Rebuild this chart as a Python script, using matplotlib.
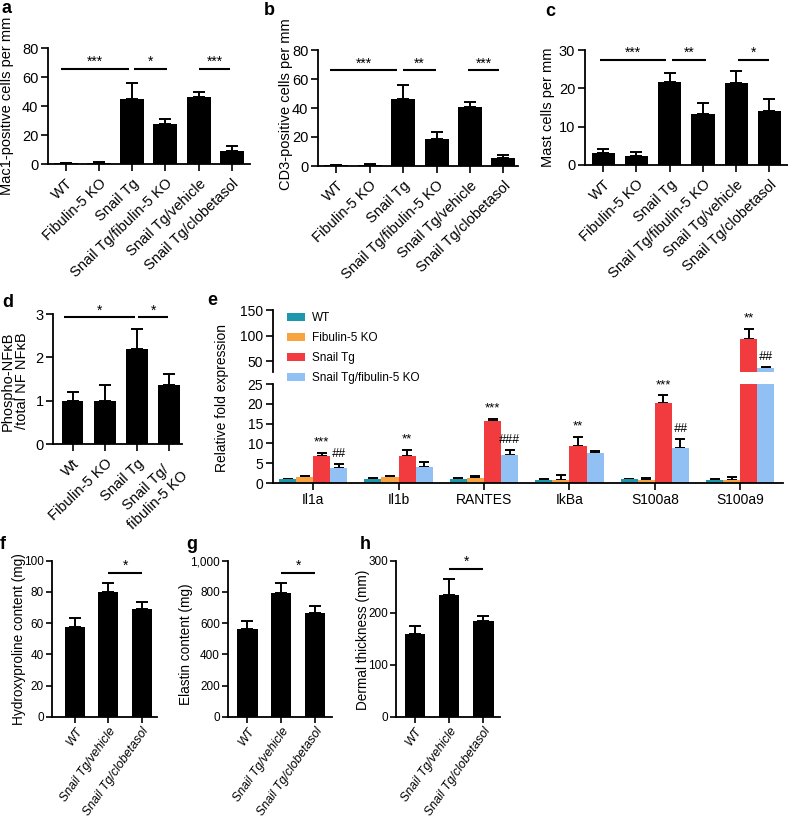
import matplotlib
matplotlib.use("Agg")
import matplotlib.pyplot as plt
from matplotlib.patches import Patch
import numpy as np

plt.rcParams['font.family'] = ['Liberation Sans', 'DejaVu Sans']
plt.rcParams['axes.linewidth'] = 1.0

# ---------------- data ----------------
groups6 = ['WT', 'Fibulin-5 KO', 'Snail Tg', 'Snail Tg/fibulin-5 KO',
           'Snail Tg/vehicle', 'Snail Tg/clobetasol']
mac1_mean = [0.5, 0.6, 44.7, 27.7, 46.5, 9.0]
mac1_err = [0.5, 0.6, 11.5, 3.4, 3.5, 3.4]
cd3_mean = [0.4, 1.0, 46.0, 18.4, 40.5, 5.5]
cd3_err = [0.4, 0.6, 9.9, 5.3, 3.4, 1.9]
mast_mean = [3.2, 2.4, 21.6, 13.3, 21.3, 14.2]
mast_err = [1.0, 1.0, 2.3, 2.8, 3.1, 3.0]

nfkb_labels = ['Wt', 'Fibulin-5 KO', 'Snail Tg', 'Snail Tg/\nfibulin-5 KO']
nfkb_mean = [1.0, 1.0, 2.2, 1.35]
nfkb_err = [0.2, 0.37, 0.45, 0.27]

genes = ['Il1a', 'Il1b', 'RANTES', 'IkBa', 'S100a8', 'S100a9']
series_names = ['WT', 'Fibulin-5 KO', 'Snail Tg', 'Snail Tg/fibulin-5 KO']
series_colors = ['#1c97ab', '#f7a440', '#f23b3f', '#90c0f4']
wt_mean = [0.9, 0.9, 0.9, 0.8, 0.9, 0.8]
wt_err = [0.15, 0.4, 0.3, 0.2, 0.15, 0.2]
fib_mean = [1.6, 1.5, 1.3, 0.8, 0.8, 0.8]
fib_err = [0.1, 0.15, 0.4, 1.2, 0.5, 0.7]
snail_mean = [6.8, 6.7, 15.7, 9.3, 20.3, 93.0]
snail_err = [0.8, 1.7, 0.5, 2.3, 1.8, 20.0]
ko_mean = [3.9, 4.0, 7.0, 7.5, 8.8, 38.0]
ko_err = [0.9, 1.2, 1.4, 0.5, 2.2, 1.2]
snail_sig = ['***', '**', '***', '**', '***', '**']
ko_sig = ['##', '', '###', '', '##', '##']

groups3 = ['WT', 'Snail Tg/vehicle', 'Snail Tg/clobetasol']
hyp_mean = [57.3, 79.7, 69.0]
hyp_err = [5.7, 5.8, 4.3]
ela_mean = [560, 795, 667]
ela_err = [53, 64, 42]
derm_mean = [160, 235, 184]
derm_err = [14, 29, 10]

# significance bars: (start, end, height, label)
sig_a = [(-0.15, 1.9, 65.7, '***'), (2.05, 3.05, 65.7, '*'), (4.0, 4.95, 65.7, '***')]
sig_b = [(-0.2, 1.82, 66, '***'), (2.0, 2.98, 66, '**'), (3.95, 4.88, 66, '***')]
sig_c = [(-0.1, 1.9, 27.4, '***'), (2.08, 3.08, 27.4, '**'), (4.06, 5.0, 27.4, '*')]
sig_d = [(-0.27, 1.94, 2.92, '*'), (2.04, 2.97, 2.92, '*')]
sig_f = [(1.0, 2.0, 92, '*')]
sig_g = [(1.0, 2.0, 923, '*')]
sig_h = [(1.0, 2.0, 284, '*')]

# ---------------- figure ----------------
W, H = 788, 821
fig = plt.figure(figsize=(W / 100, H / 100), dpi=100)


def px_axes(l, t, r, b):
    return fig.add_axes([l / W, 1 - b / H, (r - l) / W, (b - t) / H])


def ftext(x, y, s, **kw):
    fig.text(x / W, 1 - y / H, s, **kw)


def style(ax, fs=10.5, length=5, pad=2):
    for sp in ['top', 'right']:
        ax.spines[sp].set_visible(False)
    ax.spines['left'].set_linewidth(1.3)
    ax.spines['bottom'].set_linewidth(1.3)
    ax.tick_params(direction='out', length=length, width=1.2, labelsize=fs, pad=pad)


def sig(ax, items, fs=10):
    for x0, x1, y, lab in items:
        ax.plot([x0, x1], [y, y], color='k', lw=1.5, clip_on=False, solid_capstyle='butt')
        ax.text((x0 + x1) / 2, y, lab, ha='center', va='bottom', fontsize=fs)


def black_bars(ax, means, errs, width):
    x = np.arange(len(means))
    ax.bar(x, means, width=width, color='black', zorder=2)
    ax.errorbar(x, means, yerr=[np.zeros(len(errs)), errs], fmt='none',
                ecolor='black', elinewidth=1.4, capsize=4, capthick=1.4, zorder=1)
    ax.set_xticks(x)


def top_panel(box, means, errs, width, ylim, yticks, xlim, labels, sigs, ylabel, lab_xy):
    ax = px_axes(*box)
    black_bars(ax, means, errs, width)
    style(ax)
    ax.tick_params(axis='x', pad=4)
    ax.set_ylim(*ylim)
    ax.set_yticks(yticks)
    ax.set_xlim(*xlim)
    ax.set_xticklabels(labels, rotation=44, ha='right', rotation_mode='anchor',
                       multialignment='center', fontsize=10.5)
    sig(ax, sigs)
    ftext(lab_xy[0], lab_xy[1], ylabel, rotation=90, ha='center', va='center',
          fontsize=10.5, multialignment='center', linespacing=1.0)
    return ax


top_panel((48, 48.3, 250, 164), mac1_mean, mac1_err, 0.72, (0, 80), [0, 20, 40, 60, 80],
          (-0.53, 5.54), groups6, sig_a, 'Mac1-positive cells per mm', (7, 106))
top_panel((318, 50, 518, 166), cd3_mean, cd3_err, 0.72, (0, 80), [0, 20, 40, 60, 80],
          (-0.55, 5.44), groups6, sig_b, 'CD3-positive cells per mm', (286, 104))
top_panel((585, 50, 788, 165), mast_mean, mast_err, 0.7, (0, 30), [0, 10, 20, 30],
          (-0.55, 5.56), groups6, sig_c, 'Mast cells per mm', (548, 107))
top_panel((53.3, 314, 181.7, 444), nfkb_mean, nfkb_err, 0.67, (0, 3), [0, 1, 2, 3],
          (-0.6, 3.39), nfkb_labels, sig_d, 'Phospho-NFκB\n/total NF NFκB', (15, 381))

# ---- panel e (broken axis) ----
ax_up = px_axes(273, 310, 783, 371.7)
ax_lo = px_axes(273, 384, 783, 483)
bw = 0.2
xg = np.arange(len(genes))
all_means = [wt_mean, fib_mean, snail_mean, ko_mean]
all_errs = [wt_err, fib_err, snail_err, ko_err]
for a in (ax_up, ax_lo):
    for k in range(4):
        xk = xg + (k - 1.5) * bw
        a.bar(xk, all_means[k], width=bw, color=series_colors[k], zorder=2)
        a.errorbar(xk, all_means[k], yerr=[np.zeros(6), all_errs[k]], fmt='none',
                   ecolor='black', elinewidth=1.4, capsize=3.5, capthick=1.4, zorder=1)
    a.set_xlim(-0.47, 5.5)
    style(a, fs=10)
ax_lo.set_ylim(0, 25)
ax_lo.set_yticks([0, 5, 10, 15, 20, 25])
ax_lo.set_xticks(xg)
ax_lo.set_xticklabels(genes)
ax_up.set_ylim(30, 150)
ax_up.set_yticks([50, 100, 150])
ax_up.spines['bottom'].set_visible(False)
ax_up.tick_params(axis='x', bottom=False, labelbottom=False)

for i in range(6):
    xs = xg[i] + 0.5 * bw
    xb = xg[i] + 1.5 * bw
    ys = snail_mean[i] + snail_err[i]
    yb = ko_mean[i] + ko_err[i]
    tgt = ax_up if ys > 25 else ax_lo
    tgt.annotate(snail_sig[i], (xs, ys), xytext=(0, 3), textcoords='offset points',
                 ha='center', va='bottom', fontsize=9.5)
    if ko_sig[i]:
        tgt = ax_up if yb > 25 else ax_lo
        tgt.annotate(ko_sig[i], (xb, yb), xytext=(0, 3), textcoords='offset points',
                     ha='center', va='bottom', fontsize=9, style='italic')

handles = [Patch(facecolor=c, edgecolor='none') for c in series_colors]
fig.legend(handles, series_names, loc='upper left',
           bbox_to_anchor=(287 / W, 1 - 312 / H), frameon=False, fontsize=8.5,
           handlelength=1.55, handleheight=0.75, labelspacing=0.68, handletextpad=0.55,
           borderaxespad=0, borderpad=0)
ftext(221.7, 397.5, 'Relative fold expression', rotation=90, ha='center', va='center', fontsize=10)


# ---- panels f, g, h ----
def lower_panel(box, means, errs, ylim, yticks, xlim, sigs, ylabel, lab_xy, fmt=None):
    ax = px_axes(*box)
    black_bars(ax, means, errs, 0.6)
    style(ax, fs=8.5, length=4, pad=1.5)
    ax.tick_params(axis='x', pad=2)
    ax.set_ylim(*ylim)
    ax.set_yticks(yticks)
    if fmt:
        ax.set_yticklabels([fmt(v) for v in yticks])
    ax.set_xlim(*xlim)
    ax.set_xticklabels(groups3, rotation=55, ha='right', rotation_mode='anchor',
                       style='italic', fontsize=8.9)
    sig(ax, sigs, fs=10)
    ftext(lab_xy[0], lab_xy[1], ylabel, rotation=90, ha='center', va='center',
          fontsize=9.8)
    return ax


lower_panel((51.7, 560.7, 156.7, 716.7), hyp_mean, hyp_err, (0, 100),
            [0, 20, 40, 60, 80, 100], (-0.7, 2.45), sig_f,
            'Hydroxyproline content (mg)', (19, 639))
lower_panel((227.7, 560.7, 331.7, 716.7), ela_mean, ela_err, (0, 1000),
            [0, 200, 400, 600, 800, 1000], (-0.58, 2.49), sig_g,
            'Elastin content (mg)', (186, 644), fmt=lambda v: f'{v:,}')
lower_panel((395.7, 560.7, 500, 716.7), derm_mean, derm_err, (0, 300),
            [0, 100, 200, 300], (-0.56, 2.49), sig_h,
            'Dermal thickness (mm)', (363, 640))

# ---- panel letters ----
for s, x, y in [('a', 2, 0), ('b', 264, 2), ('c', 545, 3), ('d', 2, 294),
                ('e', 207, 292), ('f', 0, 536), ('g', 186, 536), ('h', 360, 536)]:
    ftext(x, y, s, fontsize=13, fontweight='bold', ha='left', va='top')

fig.savefig('out.png', dpi=100)
